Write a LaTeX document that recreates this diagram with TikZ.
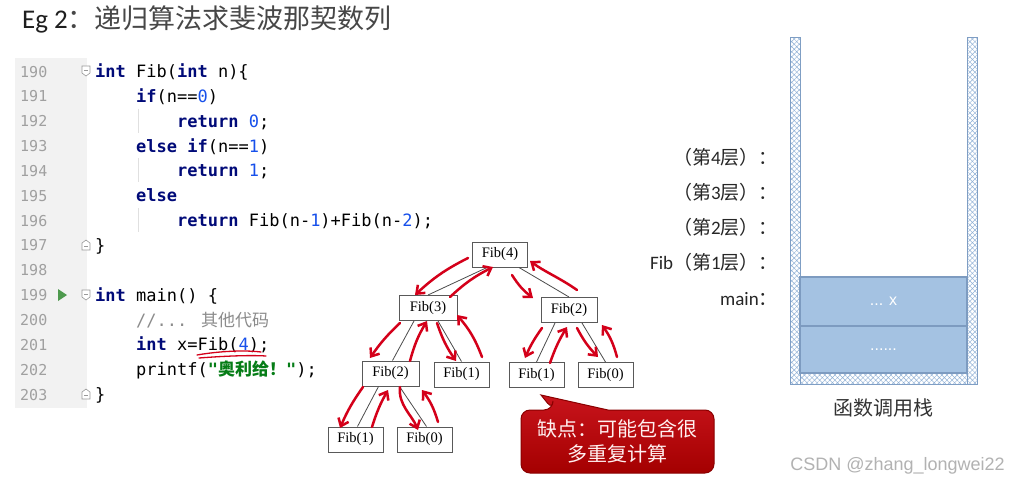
\documentclass[tikz,border=0pt]{standalone}
\usepackage{fontspec}
\usetikzlibrary{arrows.meta,patterns.meta,calc}
\newfontfamily\cjk{Noto Sans CJK SC}
\newfontfamily\codef{DejaVu Sans Mono}
\newfontfamily\cali{Carlito}
\newfontfamily\tms{Liberation Serif}
\newfontfamily\arl{Liberation Sans}
\definecolor{kw}{HTML}{000A78}
\definecolor{num}{HTML}{1750EB}
\definecolor{str}{HTML}{067D17}
\definecolor{cmt}{HTML}{8C8C8C}
\definecolor{lnumc}{HTML}{A0A0A0}
\definecolor{gut}{HTML}{F2F2F2}
\definecolor{redpen}{HTML}{D4001A}
\definecolor{runc}{HTML}{4E9A4E}
\definecolor{hatchc}{HTML}{8FB0D6}
\definecolor{wallb}{HTML}{7F9EC4}
\definecolor{boxf}{HTML}{A4C2E2}
\definecolor{boxb}{HTML}{7D9BC0}
\definecolor{calt}{HTML}{C8141C}
\definecolor{calb}{HTML}{A40000}
\definecolor{calbd}{HTML}{8A0000}
\newcommand\kwd[1]{{\bfseries\color{kw}#1}}
\newcommand\nm[1]{{\color{num}#1}}
\tikzset{
  code/.style={anchor=base west, inner sep=0pt, font=\codef\fontsize{17}{20}\selectfont},
  lnum/.style={anchor=base west, inner sep=0pt, text=lnumc, font=\codef\fontsize{15}{18}\selectfont},
  fibbox/.style={draw=black!65, line width=1pt, fill=white, minimum width=55pt, minimum height=25pt, inner sep=0pt, font=\tms\fontsize{14.5}{16}\selectfont},
  treeedge/.style={draw=black!70, line width=0.8pt},
  pen/.style={draw=redpen, line width=2.5pt, line cap=round, -{Straight Barb[length=7pt,width=11pt]}},
  wall/.style={pattern={Hatch[angle=45,distance=3.6pt,line width=0.45pt]}, pattern color=hatchc, draw=wallb, line width=0.8pt},
  stackbox/.style={draw=boxb, line width=1.2pt, fill=boxf, minimum width=167pt, inner sep=0pt, text=white, font=\arl\fontsize{16}{18}\selectfont},
  stlabel/.style={anchor=base east, inner sep=0pt, text=black!85, font=\cjk\fontsize{19}{22}\selectfont},
  foldopen/.pic={\draw[black!40,line width=0.6pt,fill=white] (-4,-5) -- (4,-5) -- (4,2) -- (0,5) -- (-4,2) -- cycle; \draw[black!40,line width=0.6pt] (-2,-1) -- (2,-1);},
  foldclose/.pic={\draw[black!40,line width=0.6pt,fill=white] (-4,5) -- (4,5) -- (4,-2) -- (0,-5) -- (-4,-2) -- cycle; \draw[black!40,line width=0.6pt] (-2,1) -- (2,1);}
}
\begin{document}
\begin{tikzpicture}[x=1pt,y=-1pt]
\useasboundingbox (0,0) rectangle (1009,482);
\fill[white] (0,0) rectangle (1009,482);

% title
\node[anchor=base west, inner sep=0pt] (title) at (22,28)
  {{\cali\fontsize{27}{30}\selectfont\color{black!88}Eg 2}{\cjk\fontsize{27}{30}\selectfont\color{black!72}：递归算法求斐波那契数列}};

% code gutter
\fill[gut] (15,58) rectangle (87,408);
\foreach \n [count=\i from 0] in {190,...,203}
  \node[lnum] (n\n) at (20,{77+24.85*\i}) {\n};
\pic at (86,71) {foldopen};
\pic at (86,245) {foldclose};
\pic at (86,295) {foldopen};
\pic at (86,394) {foldclose};
\fill[runc] (58,289) -- (58,301) -- (67,295) -- cycle;
% indent guides
\foreach \yy in {120.7,170.4,220.1}
  \draw[black!12, line width=0.6pt] (138,\yy-12) -- (138,\yy+12);

% code
\node[code] (c190) at (95,77)  {\kwd{int} Fib(\kwd{int} n)\{};
\node[code] (c191) at (136,102) {\kwd{if}(n==\nm{0})};
\node[code] (c192) at (177,127) {\kwd{return} \nm{0};};
\node[code] (c193) at (136,152) {\kwd{else} \kwd{if}(n==\nm{1})};
\node[code] (c194) at (177,176) {\kwd{return} \nm{1};};
\node[code] (c195) at (136,201) {\kwd{else}};
\node[code] (c196) at (177,226) {\kwd{return} Fib(n-\nm{1})+Fib(n-\nm{2});};
\node[code] (c197) at (95,251)  {\}};
\node[code] (c199) at (95,301)  {\kwd{int} main() \{};
\node[code] (c200) at (136,326) {{\color{cmt}//... {\cjk 其他代码}}};
\node[code] (c201) at (136,350) {\kwd{int} x=Fib(\nm{4});};
\node[code] (c202) at (136,375) {printf({\bfseries\color{str}"{\cjk 奥利给！}"});};
\node[code] (c203) at (95,400)  {\}};
% red underline
\draw[redpen, line width=1.3pt, line cap=round] (197,355) .. controls (220,351) and (245,350) .. (261,352);
\draw[redpen, line width=1.3pt, line cap=round] (199,358) .. controls (225,356) and (250,355) .. (266,356);

% tree
\node[fibbox] (t4)  at (500,254.5) {Fib(4)};
\node[fibbox, minimum width=58pt] (t3)  at (428,308) {Fib(3)};
\node[fibbox, minimum width=56pt] (t2r) at (569,310) {Fib(2)};
\node[fibbox, minimum width=57pt] (t2l) at (390.5,373.5) {Fib(2)};
\node[fibbox] (t1m) at (461.5,374.5) {Fib(1)};
\node[fibbox] (t1r) at (536.5,375) {Fib(1)};
\node[fibbox] (t0r) at (605.5,375) {Fib(0)};
\node[fibbox] (t1b) at (355.5,439.5) {Fib(1)};
\node[fibbox] (t0b) at (424.5,439.5) {Fib(0)};
\draw[treeedge] ([xshift=-13pt]t4.south) -- (t3.north);
\draw[treeedge] ([xshift=19pt]t4.south) -- (t2r.north);
\draw[treeedge] ([xshift=-14pt]t3.south) -- ([xshift=2pt]t2l.north);
\draw[treeedge] ([xshift=10pt]t3.south) -- (t1m.north);
\draw[treeedge] ([xshift=-12pt]t2l.south) -- ([xshift=2pt]t1b.north);
\draw[treeedge] ([xshift=9pt]t2l.south) -- ([xshift=2pt]t0b.north);
\draw[treeedge] ([xshift=-14pt]t2r.south) -- (t1r.north);
\draw[treeedge] ([xshift=13pt]t2r.south) -- (t0r.north);
% red annotation arrows
\draw[pen] (468,258) to[bend right=8] (415,295);
\draw[pen] (450,297) to[bend left=8] (493,267);
\draw[pen] (512,275) to[bend right=10] (533,298);
\draw[pen] (577,290) .. controls (560,278) and (545,272) .. (530,261);
\draw[pen] (400,323) to[bend right=6] (370,358);
\draw[pen] (410,361) to[bend left=8] (427,321);
\draw[pen] (437,323) to[bend right=8] (456,361);
\draw[pen] (482,357) to[bend right=10] (457,315);
\draw[pen] (363,387) to[bend right=6] (340,428);
\draw[pen] (372,427) to[bend left=6] (388,390);
\draw[pen] (400,387) .. controls (398,405) and (412,415) .. (418,430);
\draw[pen] (438,422) to[bend right=10] (422,390);
\draw[pen] (542,328) to[bend right=6] (525,358);
\draw[pen] (550,363) to[bend left=6] (567,327);
\draw[pen] (577,328) to[bend right=8] (598,357);
\draw[pen] (617,357) to[bend right=10] (602,325);

% callout
\draw[draw=calbd, line width=1pt, top color=calt, bottom color=calb]
  (553,410) -- (541,395) -- (608,410) [rounded corners=9pt] -- (714,410) -- (714,473) -- (521,473) -- (521,410) -- (553,410) -- cycle;
\node[align=center, text=white!94!red, font=\cjk\fontsize{20}{25}\selectfont, inner sep=0pt] (cal) at (617,441) {缺点：可能包含很\\多重复计算};

% stack
\path[wall] (790,37) rectangle (800,384);
\path[wall] (967,37) rectangle (977,384);
\path[wall] (800,373) rectangle (967,384);
\node[stackbox, minimum height=49pt] (sx) at (883.5,301.5) {... x};
\node[stackbox, minimum height=47pt] (sd) at (883.5,349.5) {......};
\node[stlabel] (l4) at (778,164) {（第{\cali 4}层）：};
\node[stlabel] (l3) at (778,199) {（第{\cali 3}层）：};
\node[stlabel] (l2) at (778,234) {（第{\cali 2}层）：};
\node[stlabel] (l1) at (778,269) {{\cali Fib}（第{\cali 1}层）：};
\node[stlabel] (lm) at (778,305) {{\cali main}：};
\node[text=black!80, font=\cjk\fontsize{20}{24}\selectfont, inner sep=0pt] (stk) at (883,408) {函数调用栈};

% watermark
\node[anchor=base east, inner sep=0pt, text=black!30, font=\arl\fontsize{18}{20}\selectfont] (wm) at (1005,470) {CSDN @zhang\_longwei22};
\end{tikzpicture}
\end{document}
